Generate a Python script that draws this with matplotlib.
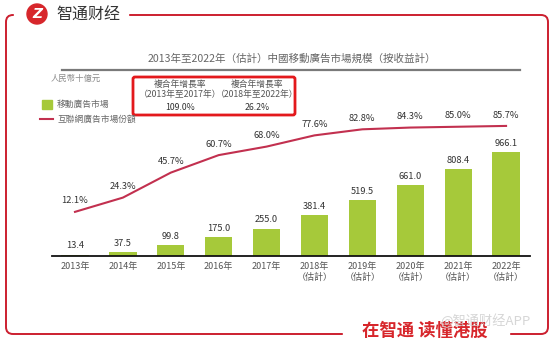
#-----China mobile ad market chart (2013-2022, est.)
import matplotlib
matplotlib.use('Agg')
import matplotlib.pyplot as plt
from matplotlib.patches import FancyBboxPatch, Rectangle, Circle

#-----Data
years = ['2013年', '2014年', '2015年', '2016年', '2017年',
         '2018年', '2019年', '2020年', '2021年', '2022年']
estimated = [False, False, False, False, False, True, True, True, True, True]
mobile_ad = [13.4, 37.5, 99.8, 175.0, 255.0, 381.4, 519.5, 661.0, 808.4, 966.1]
share = [12.1, 24.3, 45.7, 60.7, 68.0, 77.6, 82.8, 84.3, 85.0, 85.7]
cagr_periods = ['（2013年至2017年）', '（2018年至2022年）']
cagr_values = ['109.0%', '26.2%']

title = '2013年至2022年（估計）中國移動廣告市場規模（按收益計）'
unit_label = '人民幣十億元'
legend_bar = '移動廣告市場'
legend_line = '互聯網廣告市場份額'

#-----Colors
green = '#a6c93a'
crimson = '#c2304f'
frame_red = '#cc1f2f'
grey = '#666666'

plt.rcParams['font.family'] = ['Noto Sans CJK TC', 'DejaVu Sans']

W, H = 554, 345
fig = plt.figure(figsize=(W / 100, H / 100), dpi=100)

#-----Overlay in pixel coordinates for the decoration
ov = fig.add_axes([0, 0, 1, 1])
ov.set_xlim(0, W)
ov.set_ylim(H, 0)
ov.axis('off')

# rounded red frame, with gaps for logo and slogan
ov.add_patch(FancyBboxPatch((6, 15), 542, 319, boxstyle='round,pad=0,rounding_size=7',
                            fill=False, edgecolor=frame_red, lw=1.4))
ov.add_patch(Rectangle((14, 5), 114, 20, color='white', zorder=2))
ov.add_patch(Rectangle((343, 325), 166, 20, color='white', zorder=2))

# logo
ov.add_patch(Circle((37, 14), 10, color='#d7262b', zorder=3))
ov.text(37, 14.5, 'Z', color='white', fontsize=10, fontweight='bold', style='italic',
        ha='center', va='center', family='DejaVu Sans', zorder=4)
ov.text(56, 15, '智通财经', fontsize=11.5, color='#333333', va='center',
        family=['Noto Sans CJK SC', 'DejaVu Sans'], zorder=4)

# slogan and watermark
ov.text(425, 331, '在智通 读懂港股', fontsize=12.5, color='#d7262b', fontweight='bold',
        ha='center', va='center', family=['Noto Sans CJK SC', 'DejaVu Sans'], zorder=4)
ov.text(485, 321, '@智通财经APP', fontsize=9.5, color='#cccccc', alpha=0.8,
        ha='center', va='center', family=['Noto Sans CJK SC', 'DejaVu Sans'], zorder=5)

# title and underline
ov.text(292, 59, title, fontsize=7.6, color=grey, ha='center', va='center')
ov.plot([62, 520], [70, 70], color='#7a7a7a', lw=1.6)

# unit
ov.text(76, 78, unit_label, fontsize=6, color='#8a8a8a', ha='center', va='center')

# CAGR box
ov.add_patch(FancyBboxPatch((133, 77), 162, 38, boxstyle='round,pad=0,rounding_size=2',
                            fill=False, edgecolor='#e3191c', lw=2))
for cx, period, val in zip([180, 257], cagr_periods, cagr_values):
    ov.text(cx, 84, '複合年增長率', fontsize=6.3, color='#555555', ha='center', va='center')
    ov.text(cx, 95, period, fontsize=6.3, color='#555555', ha='center', va='center')
    ov.text(cx, 108, val, fontsize=6.3, color='#333333', ha='center', va='center')

# legend
ov.add_patch(Rectangle((42, 100), 10, 9, color=green))
ov.text(57, 104.5, legend_bar, fontsize=6.3, color=grey, va='center')
ov.plot([40, 53], [119, 119], color=crimson, lw=1.5)
ov.text(57, 119, legend_line, fontsize=6.3, color=grey, va='center')

#-----Main chart
ax = fig.add_axes([52 / W, (H - 256) / H, 478 / W, 156 / H])
x = list(range(len(years)))
ax.bar(x, mobile_ad, width=0.57, color=green, zorder=2)
for xi, v in zip(x, mobile_ad):
    ax.text(xi, v + 40, f'{v:.1f}', ha='center', va='bottom', fontsize=6.7, color='#333333')
ax.set_xlim(-0.48, 9.5)
ax.set_ylim(0, 1450)
ax.set_yticks([])
labels = [y + '\n（估計）' if e else y for y, e in zip(years, estimated)]
ax.set_xticks(x)
ax.set_xticklabels(labels, fontsize=6.5, color='#555555', linespacing=1.25)
ax.tick_params(axis='x', length=0, pad=4)
for s in ['top', 'right', 'left']:
    ax.spines[s].set_visible(False)
ax.spines['bottom'].set_linewidth(1.3)
ax.spines['bottom'].set_color('#111111')
ax.patch.set_alpha(0)

ax2 = ax.twinx()
ax2.plot(x, share, color=crimson, lw=1.5)
for xi, v in zip(x, share):
    ax2.text(xi, v + 5.5, f'{v:.1f}%', ha='center', va='bottom', fontsize=6.7, color='#333333')
ax2.set_ylim(-25.7, 107.9)
ax2.axis('off')

fig.savefig('out.png', dpi=100)
